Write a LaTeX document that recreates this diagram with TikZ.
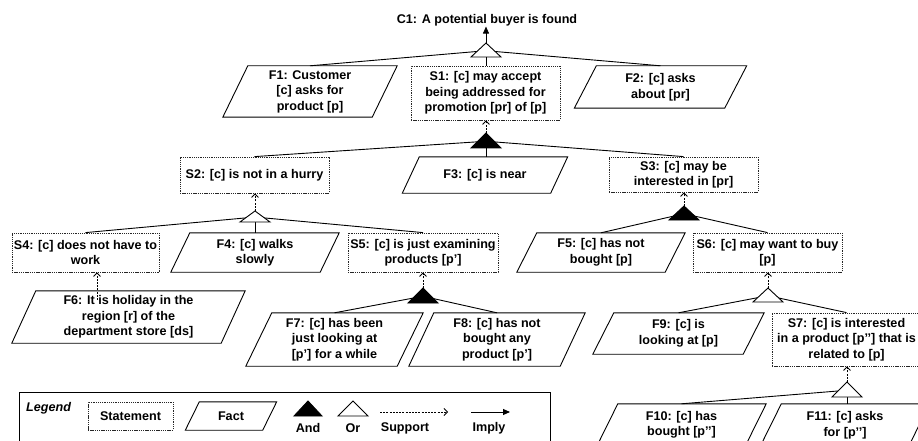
\documentclass[tikz,border=0pt]{standalone}
\usepackage{fontspec}
\setmainfont{Liberation Sans}
\usetikzlibrary{arrows.meta}
\tikzset{
  lbl/.style={font=\fontsize{12.6}{15.5}\selectfont\bfseries, inner sep=0pt, align=center},
  stmt/.style={lbl, draw=black!85, line width=0.8pt, dash pattern=on 1.3pt off 0.9pt},
  fline/.style={line width=0.9pt, line join=miter},
  link/.style={line width=0.9pt},
  support/.style={line width=0.8pt, dash pattern=on 2pt off 1.2pt, -{Straight Barb[length=3.5pt,width=7pt]}},
  imply/.style={line width=0.9pt, -{Triangle[length=7pt,width=6pt]}},
  andgate/.style={draw, fill=black, line width=0.9pt, line join=miter},
  orgate/.style={draw, fill=white, line width=0.9pt, line join=miter},
}
% name, cx, cy, edge width, slant, height, text
\newcommand\factnode[7]{%
  \node[lbl, minimum width=#4+#5, minimum height=#6] (#1) at (#2,#3) {#7};
  \draw[fline] ([xshift=#5]#1.north west) -- (#1.north east) -- ([xshift=-#5]#1.south east) -- (#1.south west) -- cycle;
}
% name, x, apex y, height
\newcommand\gatecoords[4]{%
  \coordinate (#1t) at (#2,#3);
  \coordinate (#1c) at (#2,#3+#4*0.55);
  \coordinate (#1b) at (#2,#3+#4);
}
% name, height, style
\newcommand\gatedraw[3]{%
  \path[#3] (#1t) -- ++(15,#2) -- ++(-30,0) -- cycle;
}
\begin{document}
\begin{tikzpicture}[x=1pt,y=-1pt]
\clip (0,0) rectangle (918,441);
\fill[white] (0,0) rectangle (918,441);

% conclusion
\node[lbl, inner sep=0.5pt] (C1) at (487,20) {C1: A potential buyer is found};

% statements
\node[stmt, minimum width=149, minimum height=54] (S1) at (485.5,93) {S1: [c] may accept\\being addressed for\\promotion [pr] of [p]};
\node[stmt, minimum width=149, minimum height=36] (S2) at (254.5,175) {S2: [c] is not in a hurry};
\node[stmt, minimum width=149, minimum height=35] (S3) at (683.5,174.5) {S3: [c] may be\\interested in [pr]};
\node[stmt, minimum width=147, minimum height=39] (S4) at (85.5,252.5) {S4: [c] does not have to\\work};
\node[stmt, minimum width=150, minimum height=39] (S5) at (423,252.5) {S5: [c] is just examining\\products [p’]};
\node[stmt, minimum width=149, minimum height=39] (S6) at (767.5,252.5) {S6: [c] may want to buy\\{}[p]};
\node[stmt, minimum width=149, minimum height=53] (S7) at (846.5,339.5) {S7: [c] is interested\\in a product [p’’] that is\\related to [p]};

% facts
\factnode{F1}{310}{91.5}{149}{25}{51}{F1: Customer\\{}[c] asks for\\product [p]}
\factnode{F2}{660.5}{87}{150}{22}{42}{F2: [c] asks\\about [pr]}
\factnode{F3}{485}{175}{148}{17}{36}{F3: [c] is near}
\factnode{F4}{255}{252.5}{149}{19}{39}{F4: [c] walks\\slowly}
\factnode{F5}{601}{252.5}{148}{20}{39}{F5: [c] has not\\bought [p]}
\factnode{F6}{128.5}{317}{209}{24}{52}{F6: It is holiday in the\\region [r] of the\\department store [ds]}
\factnode{F7}{334.5}{339.5}{151}{26}{53}{F7: [c] has been\\just looking at\\{}[p’] for a while}
\factnode{F8}{497}{339.5}{151}{25}{53}{F8: [c] has not\\bought any\\product [p’]}
\factnode{F9}{678.5}{333.5}{150}{21}{41}{F9: [c] is\\looking at [p]}
\factnode{F10}{681.5}{425}{148}{21}{42}{F10: [c] has\\bought [p’’]}
\factnode{F11}{845}{425}{148}{21}{42}{F11: [c] asks\\for [p’’]}

% gates
\gatecoords{G1}{486}{43}{14}
\gatecoords{G2}{486}{133}{15}
\gatecoords{G3}{255}{211}{11}
\gatecoords{G4}{684}{206}{14}
\gatecoords{G5}{423}{288}{15}
\gatecoords{G6}{768}{288}{14}
\gatecoords{G7}{847}{382}{15}

% links
\draw[link] (G1c) -- (F1.north);
\draw[link] (G1c) -- (F2.north);
\draw[link] (G1b) -- (G1b |- S1.north);
\draw[link] (G2c) -- (S2.north);
\draw[link] (G2c) -- (S3.north);
\draw[link] (G2b) -- (G2b |- F3.north);
\draw[link] (G3c) -- (S4.north);
\draw[link] (G3c) -- (S5.north);
\draw[link] (G3b) -- (G3b |- F4.north);
\draw[link] (G4c) -- (F5.north);
\draw[link] (G4c) -- (S6.north);
\draw[link] (G5c) -- (F7.north);
\draw[link] (G5c) -- (F8.north);
\draw[link] (G6c) -- (F9.north);
\draw[link] (G6c) -- (S7.north);
\draw[link] (G7c) -- (F10.north);
\draw[link] (G7b) -- (G7b |- F11.north);

\gatedraw{G1}{14}{orgate}
\gatedraw{G2}{15}{andgate}
\gatedraw{G3}{11}{orgate}
\gatedraw{G4}{14}{andgate}
\gatedraw{G5}{15}{andgate}
\gatedraw{G6}{14}{orgate}
\gatedraw{G7}{15}{orgate}

% arrows
\draw[imply] (G1t) -- (G1t |- C1.south);
\draw[support] (G2t) -- (G2t |- S1.south);
\draw[support] (G3t) -- (G3t |- S2.south);
\draw[support] (G4t) -- (G4t |- S3.south);
\draw[support] (G5t) -- (G5t |- S5.south);
\draw[support] (G6t) -- (G6t |- S6.south);
\draw[support] (G7t) -- (G7t |- S7.south);
\coordinate (f6s) at (97,300);
\draw[support] (f6s) -- (f6s |- S4.south);

% legend
\draw[line width=0.9pt] (19,392) rectangle (550,470);
\node[lbl, font=\fontsize{12.6}{15.5}\selectfont\bfseries\itshape, anchor=west] (lg) at (26,408) {Legend};
\node[stmt, minimum width=85, minimum height=28] (lgS) at (130.5,416) {Statement};
\factnode{lgF}{231}{416}{77}{14}{28}{Fact}
\coordinate (LAt) at (308,401);
\path[andgate] (LAt) -- ++(14,15) -- ++(-28,0) -- cycle;
\node[lbl] (lgA) at (308,428) {And};
\coordinate (LOt) at (353,401);
\path[orgate] (LOt) -- ++(15,15) -- ++(-30,0) -- cycle;
\node[lbl] (lgO) at (353,428) {Or};
\coordinate (LS1) at (380,412);
\coordinate (LS2) at (448,412);
\draw[support] (LS1) -- (LS2);
\node[lbl] (lgSu) at (405,428) {Support};
\coordinate (LI1) at (471,412);
\coordinate (LI2) at (510,412);
\draw[imply] (LI1) -- (LI2);
\node[lbl] (lgI) at (489,428) {Imply};
\end{tikzpicture}
\end{document}
